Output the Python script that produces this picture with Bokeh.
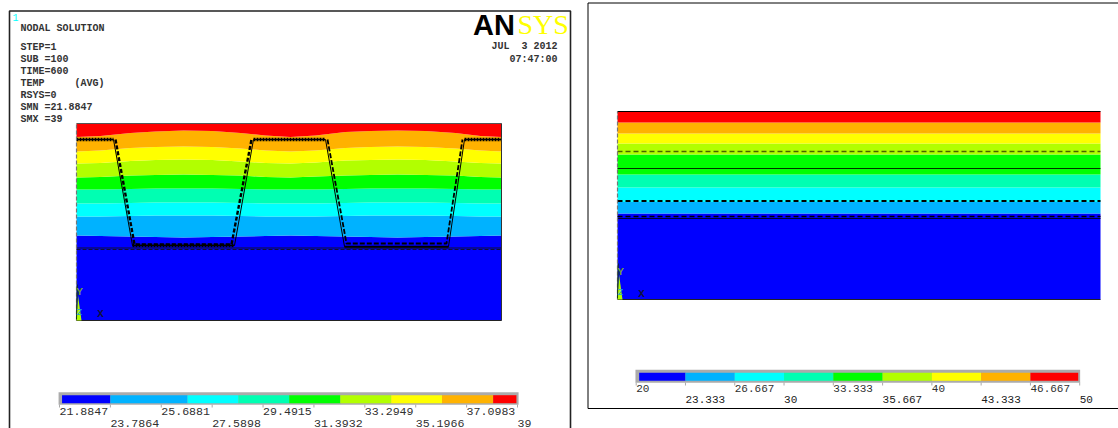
from bokeh.plotting import figure
from bokeh.models import Range1d
from bokeh.core.properties import value
from bokeh.embed import file_html
from bokeh.resources import INLINE

BAND_COLORS = ["#0000FF", "#00B2FF", "#00FFFF", "#00FFB2", "#00FF00", "#B2FF00", "#FFFF00", "#FFB200", "#FF0000"]

# left model: contour boundaries (height above model base) at stations along the width
L_WIDTH = 425
L_HEIGHT = 197
L_STATIONS = [0, 24, 54, 79, 107, 136, 164, 189, 214, 239, 269, 294, 321, 349, 379, 404, 425]
L_B8 = [85, 84.5, 84, 83.5, 83, 83.5, 84, 84.5, 85, 84.5, 84, 83.5, 83, 83.5, 84, 84.5, 85]
L_B7 = [104, 104, 104.5, 105, 105, 105, 104.5, 104, 104, 104, 104.5, 105, 105, 105, 104.5, 104, 104]
L_B6 = [117, 117, 117.5, 118, 118, 118, 117.5, 117, 117, 117, 117.5, 118, 118, 118, 117.5, 117, 117]
L_B5 = [131, 131, 131.5, 132, 132, 132, 131.5, 131, 131, 131, 131.5, 132, 132, 132, 131.5, 131, 131]
L_B4 = [143, 143.5, 145, 145.5, 146, 145.5, 145, 143.5, 143, 144, 145, 145.5, 146, 145.5, 145, 143.5, 143]
L_B3 = [157, 157.5, 159.5, 160.5, 161, 160.5, 159, 157.5, 157, 158, 160, 160.5, 161, 160.5, 159, 157.5, 157]
L_B2 = [169, 170, 172.5, 173.5, 174, 173.5, 172, 170, 169, 170, 172.5, 173.5, 174, 173.5, 172, 170, 169]
L_B1 = [183.5, 184.5, 187.5, 189, 190, 189.5, 187.5, 185, 183.5, 185, 188.5, 189.5, 190, 189.5, 187.5, 184.5, 183.5]

# left model: trench outline
L_OUT_X = [0, 37, 56, 158, 177, 249, 268, 372, 388, 425]
L_OUT_Y = [181, 181, 75, 75, 181, 181, 74, 74, 181, 181]
L_OUT2_X = [39, 58, 155, 175]
L_OUT2_Y = [181, 76, 76, 181]
L_OUT3_X = [251, 270, 370, 386]
L_OUT3_Y = [181, 77, 77, 181]
L_TOP_X = [[0, 37], [177, 249], [388, 425], [56, 158]]
L_TOP_Y = [[181, 181], [181, 181], [181, 181], [75, 75]]
L_LOW_THICK_X = [268, 372]
L_LOW_THICK_Y = [73.5, 73.5]
L_BASE_SOLID = 72.5
L_BASE_DASH = 71

# right model: flat layers
R_WIDTH = 483
R_HEIGHT = 188
R_BOUNDS = [86, 97.5, 112, 125, 145, 156, 166, 177]
R_DASHED = [148, 98.5, 83]
R_SOLID = [131, 81]

# colour bars
L_TICKS = [21.8847, 23.7864, 25.6881, 27.5898, 29.4915, 31.3932, 33.2949, 35.1966, 37.0983, 39]
L_TICK_LABELS = ["21.8847", "23.7864", "25.6881", "27.5898", "29.4915", "31.3932", "33.2949", "35.1966", "37.0983", "39"]
L_COLOR_EDGES = [21.98, 23.7864, 26.67, 28.57, 30.47, 32.38, 34.28, 36.18, 38.09, 38.96]
R_TICKS = [20, 23.333, 26.667, 30, 33.333, 36.667, 40, 43.333, 46.667, 50]
R_TICK_LABELS = ["20", "23.333", "26.667", "30", "33.333", "35.667", "40", "43.333", "46.667", "50"]
R_COLOR_EDGES = [20.2, 23.333, 26.667, 30, 33.333, 36.667, 40, 43.333, 46.667, 49.9]

NOTE_LINES = ["STEP=1", "SUB =100", "TIME=600", "TEMP\u00a0\u00a0\u00a0\u00a0\u00a0(AVG)", "RSYS=0", "SMN =21.8847", "SMX =39"]

W, H = 1118, 428
p = figure(width=W, height=H, x_range=Range1d(0, W), y_range=Range1d(H, 0),
           x_axis_location=None, y_axis_location=None, toolbar_location=None,
           output_backend="svg", min_border=0, outline_line_color=None, margin=0)
p.xgrid.visible = False
p.ygrid.visible = False

p.extra_x_ranges = {
    "lm": Range1d(-76, W - 76),
    "rm": Range1d(-617, W - 617),
    "lt": Range1d(21.8847 - 59 * (39 - 21.8847) / 458, 21.8847 + (W - 59) * (39 - 21.8847) / 458),
    "rt": Range1d(20 - 635.7 * 30 / 443.5, 20 + (W - 635.7) * 30 / 443.5),
}
p.extra_y_ranges = {
    "lm": Range1d(320 - H, 320),
    "rm": Range1d(299 - H, 299),
}

# frames
p.line([9, 9, 570, 570], [H, 10.5, 10.5, H], line_color="#222222", line_width=1.6)
p.line([587.5, 587.5, W], [408, 2.5, 2.5], line_color="black", line_width=1)
p.line([587.5, W], [408, 408], line_color="black", line_width=1)

# left contour bands
lb = [[0] * len(L_STATIONS), L_B8, L_B7, L_B6, L_B5, L_B4, L_B3, L_B2, L_B1, [L_HEIGHT] * len(L_STATIONS)]
for i, c in enumerate(BAND_COLORS):
    p.varea(L_STATIONS, lb[i], lb[i + 1], fill_color=c, x_range_name="lm", y_range_name="lm")

# left outlines
kw = dict(x_range_name="lm", y_range_name="lm")
p.line(L_OUT_X, L_OUT_Y, line_color="black", line_width=1, **kw)
p.line(L_OUT2_X, L_OUT2_Y, line_color="black", line_width=2.4, line_dash="4 2", **kw)
p.line(L_OUT3_X, L_OUT3_Y, line_color="black", line_width=1.8, line_dash="5 2", **kw)
p.multi_line(L_TOP_X, L_TOP_Y, line_color="black", line_width=3.4, line_dash="2 1", **kw)
p.line(L_LOW_THICK_X, L_LOW_THICK_Y, line_color="black", line_width=2.4, **kw)
p.line([0, L_WIDTH], [L_BASE_SOLID, L_BASE_SOLID], line_color="#101030", line_width=1, **kw)
p.line([0, L_WIDTH], [L_BASE_DASH, L_BASE_DASH], line_color="#101030", line_width=1, line_dash="4 2", **kw)
p.line([0, L_WIDTH], [L_HEIGHT, L_HEIGHT], line_color="#555555", line_width=1, **kw)
p.line([L_WIDTH, L_WIDTH], [0, L_HEIGHT], line_color="#333333", line_width=1, **kw)
p.line([0, 0], [0, L_HEIGHT], line_color="#777777", line_width=1.2, line_dash="4 2", **kw)
p.line([0, L_WIDTH], [0, 0], line_color="#222222", line_width=1, **kw)

# right contour bands
rb = [0] + R_BOUNDS + [R_HEIGHT]
kw = dict(x_range_name="rm", y_range_name="rm")
for i, c in enumerate(BAND_COLORS):
    p.quad(left=0, right=R_WIDTH, bottom=rb[i], top=rb[i + 1], fill_color=c, line_color=None, **kw)
for i, yv in enumerate(R_DASHED):
    p.line([0, R_WIDTH], [yv, yv], line_color="black", line_width=2 if i == 1 else 1.5,
           line_dash="5 3", line_alpha=1 if i else 0.6, **kw)
for yv in R_SOLID:
    p.line([0, R_WIDTH], [yv, yv], line_color="black", line_width=1.2, line_alpha=0.8, **kw)
p.line([0, R_WIDTH], [R_HEIGHT, R_HEIGHT], line_color="black", line_width=1, **kw)
p.line([0, R_WIDTH], [0, 0], line_color="#222222", line_width=1, **kw)
p.line([0, 0], [0, R_HEIGHT], line_color="#777777", line_width=1.2, line_dash="4 2", **kw)

# triads
for key, xo, yl, xl in (("lm", 76, 291.5, 100), ("rm", 617, 271.5, 641)):
    kw = dict(x_range_name=key, y_range_name=key)
    p.patch([0, 1.5, 5, 0], [0, 25, 0, 0], fill_color="#B2FF00", line_color=None, **kw)
    p.line([0, 0.8], [1, 36], line_color="#103010", line_width=1, **kw)
    p.text([xo + 3], [yl], text=["Y"], text_font=value("Liberation Mono"), text_font_size="11px",
           text_font_style="bold", text_color="#70A030", text_baseline="middle", text_align="center")
    p.text([xo + 3], [yl + 21], text=["Z"], text_font=value("Liberation Mono"), text_font_size="9px",
           text_color="#20A0D0", text_baseline="middle", text_align="center")
    p.text([xl], [yl + 21.5], text=["X"], text_font=value("Liberation Mono"), text_font_size="11px",
           text_font_style="bold", text_color="#101040", text_baseline="middle", text_align="center")

# colour bars
for rng, edges, y0, y1, fr0, fr1, fy0, fy1 in (
    ("lt", L_COLOR_EDGES, 394.7, 402.7, 21.85, 39.04, 391.7, 404.3),
    ("rt", R_COLOR_EDGES, 372.3, 380.3, 19.95, 50.03, 369.3, 382.3),
):
    p.quad(left=fr0, right=fr1, top=fy0, bottom=fy1, fill_color="#ABABAB", line_color=None, x_range_name=rng)
    p.quad(left=edges[:-1], right=edges[1:], top=y0, bottom=y1, fill_color=BAND_COLORS,
           line_color=None, x_range_name=rng)

p.segment(x0=L_TICKS, x1=L_TICKS, y0=404, y1=407, line_color="#AAAAAA", line_width=1, x_range_name="lt")
p.segment(x0=R_TICKS, x1=R_TICKS, y0=382, y1=385, line_color="#AAAAAA", line_width=1, x_range_name="rt")

mono = value("Liberation Mono")
p.text(L_TICKS[::2], [411] * 5, text=L_TICK_LABELS[::2], text_font=mono, text_font_size="11.6px",
       text_color="#303030", text_baseline="middle", x_range_name="lt")
p.text(L_TICKS[1::2], [422.5] * 5, text=L_TICK_LABELS[1::2], text_font=mono, text_font_size="11.6px",
       text_color="#303030", text_baseline="middle", x_range_name="lt")
p.text(R_TICKS[::2], [388] * 5, text=R_TICK_LABELS[::2], text_font=mono, text_font_size="11px",
       text_color="#303030", text_baseline="middle", x_range_name="rt")
p.text(R_TICKS[1::2], [399] * 5, text=R_TICK_LABELS[1::2], text_font=mono, text_font_size="11px",
       text_color="#202020", text_baseline="middle", x_range_name="rt")

# notes
notekw = dict(text_font=mono, text_font_size="10px", text_color="#333333", text_baseline="middle",
              text_font_style="bold")
p.text([15], [17], text=["1"], text_font=mono, text_font_size="10px", text_color="#00FFFF", text_baseline="middle",
       text_align="center")
p.text([20], [28], text=["NODAL SOLUTION"], **notekw)
p.text([20] * len(NOTE_LINES), [47, 59, 71, 83, 95, 107, 119], text=NOTE_LINES, **notekw)
p.text([557], [46], text=["JUL\u00a0\u00a03 2012"], text_align="right", **notekw)
p.text([557], [58.5], text=["07:47:00"], text_align="right", **notekw)

# logo
p.text([472.5], [24], text=["AN"], text_font=value("Liberation Sans"), text_font_style="bold",
       text_font_size="29px", text_color="black", text_baseline="middle")
p.text([517], [24], text=["SYS"], text_font=value("Liberation Serif"),
       text_font_size="28px", text_color="#FFFF00", text_baseline="middle")

open("out.html", "w").write(file_html(p, INLINE))
